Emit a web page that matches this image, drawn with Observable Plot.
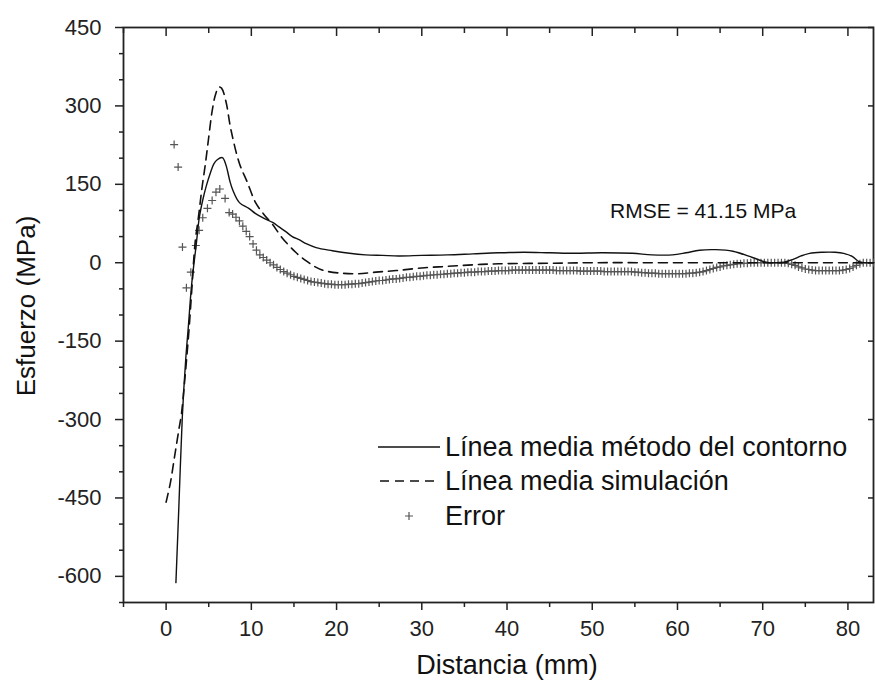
<!DOCTYPE html>
<html><head><meta charset="utf-8">
<script src="https://cdn.jsdelivr.net/npm/d3@7"></script>
<script src="https://cdn.jsdelivr.net/npm/@observablehq/plot@0.6"></script>
<style>body{margin:0;background:#fff} #chart{width:875px;height:680px}</style>
</head><body><div id="chart"></div>
<script>
// Línea media método del contorno
const contornoX = [1.15,1.5,1.9,2.3,2.6,3.0,3.5,3.9,4.3,4.7,5.2,5.6,6.0,6.6,7.0,7.2,7.5,7.8,8.6,9.7,10.5,11.5,12.5,13.3,14.0,14.8,15.6,16.5,17.6,19.5,21.5,23.4,25.4,27.3,30,33,36,39,42,45,48,51,54.7,57,59.4,61,62.6,64.5,66.5,68.8,70.4,71.5,72.5,73.5,74.5,75.5,77,78.5,79.5,80.5,81.3,82,83];
const contornoY = [-612,-465,-295,-185,-124,-41,30,87,120,146,172,189,197,201,188,176,155,140,115,104,94,85,77,68,60,50,44,36,29,23,18,15,14,13,14,15,17,19,20,19,18,19,18,15,15,19,24,25,22,10,1,0,1,6,13,18,20,20,18,12,2,0,0];
// Línea media simulación
const simX = [0,0.5,1.0,1.5,1.8,2.1,2.4,2.7,3.0,3.4,3.8,4.2,4.6,5.0,5.4,5.8,6.2,6.5,7.0,7.6,8.6,9.5,10.5,11.5,12.5,13.6,15.2,16.4,17.5,18.5,20.5,22.5,24.6,27,30,33,36,39,45,50,60,70,83];
const simY = [-458,-421,-370,-319,-289,-240,-185,-125,-55,38,88,142,188,240,290,322,336,334,310,255,190,155,115,92,73,48,20,4,-8,-15,-20,-21,-18,-15,-10,-7,-4,-2,-1,0,0,0,0];
// Error: isolated early points
const errEarlyX = [0.94,1.41,1.92,2.38,2.9,3.49,3.87,4.3,4.85,5.4,5.85,6.3,6.92,7.4];
const errEarlyY = [226,183,30,-48,-18,33,62,86,104,119,135,141,123,96];
// Error: dense samples every 0.4 mm from 7.8 mm
const errDenseStart = 7.8, errDenseStep = 0.4;
const errDenseY = [
  93,87,80,70,60,50,36,24,15,10,
  5,0,-4,-9,-13,-17,-20,-23,-26,-28,
  -30,-32,-34,-36,-37,-38,-39,-40,-41,-41,
  -42,-42,-42,-42,-41,-41,-40,-40,-39,-38,
  -37,-36,-35,-34,-34,-33,-32,-31,-31,-30,
  -29,-28,-28,-27,-26,-26,-25,-24,-24,-23,
  -23,-22,-22,-21,-21,-20,-20,-19,-19,-18,
  -18,-18,-17,-17,-17,-16,-16,-16,-15,-15,
  -15,-15,-14,-14,-14,-14,-14,-14,-14,-14,
  -14,-14,-14,-14,-14,-15,-15,-15,-15,-15,
  -15,-15,-16,-16,-16,-16,-16,-16,-16,-17,
  -17,-17,-17,-17,-17,-17,-17,-17,-18,-18,
  -19,-19,-20,-20,-20,-21,-21,-21,-21,-21,
  -21,-21,-21,-21,-20,-20,-19,-18,-17,-15,
  -13,-11,-9,-8,-6,-5,-4,-3,-2,-2,
  -1,-1,0,0,0,0,0,0,0,0,
  0,0,0,-1,-3,-5,-8,-10,-12,-13,
  -14,-15,-15,-15,-15,-15,-15,-15,-15,-14,
  -13,-11,-8,-5,-2,0,0,0,0
];
const xTicks = [0,10,20,30,40,50,60,70,80];
const xMinor = [-5,5,15,25,35,45,55,65,75];
const yTicks = [-600,-450,-300,-150,0,150,300,450];
const yMinor = [-650,-550,-500,-400,-350,-250,-200,-100,-50,50,100,200,250,350,400];
const xLabel = "Distancia (mm)";
const yLabel = "Esfuerzo (MPa)";
const rmseLabel = "RMSE = 41.15 MPa";
const legendLabels = ["Línea media método del contorno", "Línea media simulación", "Error"];

const contorno = contornoX.map((x, i) => ({x, y: contornoY[i]}));
const sim = simX.map((x, i) => ({x, y: simY[i]}));
const err = errEarlyX.map((x, i) => ({x, y: errEarlyY[i]}))
  .concat(errDenseY.map((y, i) => ({x: +(errDenseStart + i * errDenseStep).toFixed(2), y})));

const FONT = "'Liberation Sans', Arial, sans-serif";
const blank = () => "";
const plain = d => String(d);
const chart = Plot.plot({
  width: 875, height: 680,
  marginLeft: 123, marginRight: 2, marginTop: 27, marginBottom: 78,
  x: {domain: [-5, 83]},
  y: {domain: [-650, 450]},
  style: {fontFamily: FONT, color: "#222", background: "#fff", fontSize: "22px"},
  marks: [
    Plot.axisX(xTicks, {anchor: "bottom", tickSize: 8, tickPadding: 10, fontSize: 22, label: null, strokeWidth: 1.5, tickFormat: plain}),
    Plot.axisX(xMinor, {anchor: "bottom", tickSize: 5, tickFormat: blank, label: null, strokeWidth: 1.5}),
    Plot.axisX(xTicks, {anchor: "top", tickSize: -8, tickFormat: blank, label: null, strokeWidth: 1.5}),
    Plot.axisX(xMinor, {anchor: "top", tickSize: -5, tickFormat: blank, label: null, strokeWidth: 1.5}),
    Plot.axisY(yTicks, {anchor: "left", tickSize: 8, tickPadding: 14, fontSize: 22, label: null, strokeWidth: 1.5, tickFormat: plain}),
    Plot.axisY(yMinor, {anchor: "left", tickSize: 4, tickFormat: blank, label: null, strokeWidth: 1.5}),
    Plot.axisY(yTicks, {anchor: "right", tickSize: -6, tickFormat: blank, label: null, strokeWidth: 1.5}),
    Plot.frame({stroke: "#222", strokeWidth: 1.8}),
    Plot.dot(err, {x: "x", y: "y", symbol: "plus", r: 2.7, stroke: "#555", strokeWidth: 1.2}),
    Plot.line(sim, {x: "x", y: "y", curve: "catmull-rom", stroke: "#111", strokeWidth: 1.6, strokeDasharray: "9,6"}),
    Plot.line(contorno, {x: "x", y: "y", curve: "catmull-rom", stroke: "#111", strokeWidth: 1.4})
  ]
});
document.getElementById("chart").appendChild(chart);

const svg = d3.select(chart);
const g = svg.append("g").attr("font-family", FONT).attr("fill", "#111");
g.append("text").text(xLabel).attr("x", 507).attr("y", 665).attr("text-anchor", "middle")
  .attr("dominant-baseline", "central").attr("font-size", 27);
g.append("text").text(yLabel).attr("transform", "translate(26,306) rotate(-90)").attr("text-anchor", "middle")
  .attr("dominant-baseline", "central").attr("font-size", 26);
g.append("text").text(rmseLabel).attr("x", 610).attr("y", 210).attr("text-anchor", "start")
  .attr("dominant-baseline", "central").attr("font-size", 21);

const lg = svg.append("g").attr("font-family", FONT);
lg.append("line").attr("x1", 378).attr("x2", 440).attr("y1", 447).attr("y2", 447).attr("stroke", "#111").attr("stroke-width", 1.4);
lg.append("line").attr("x1", 380).attr("x2", 440).attr("y1", 481).attr("y2", 481).attr("stroke", "#111").attr("stroke-width", 1.6).attr("stroke-dasharray", "9,6");
lg.append("path").attr("d", d3.symbol(d3.symbolPlus, Math.PI * 2.7 * 2.7)()).attr("transform", "translate(409,516)")
  .attr("fill", "none").attr("stroke", "#555").attr("stroke-width", 1.2);
[447, 481, 516].forEach((y, i) => {
  lg.append("text").text(legendLabels[i]).attr("x", 445).attr("y", y).attr("text-anchor", "start")
    .attr("dominant-baseline", "central").attr("font-size", 27).attr("fill", "#111");
});
</script>
</body></html>
